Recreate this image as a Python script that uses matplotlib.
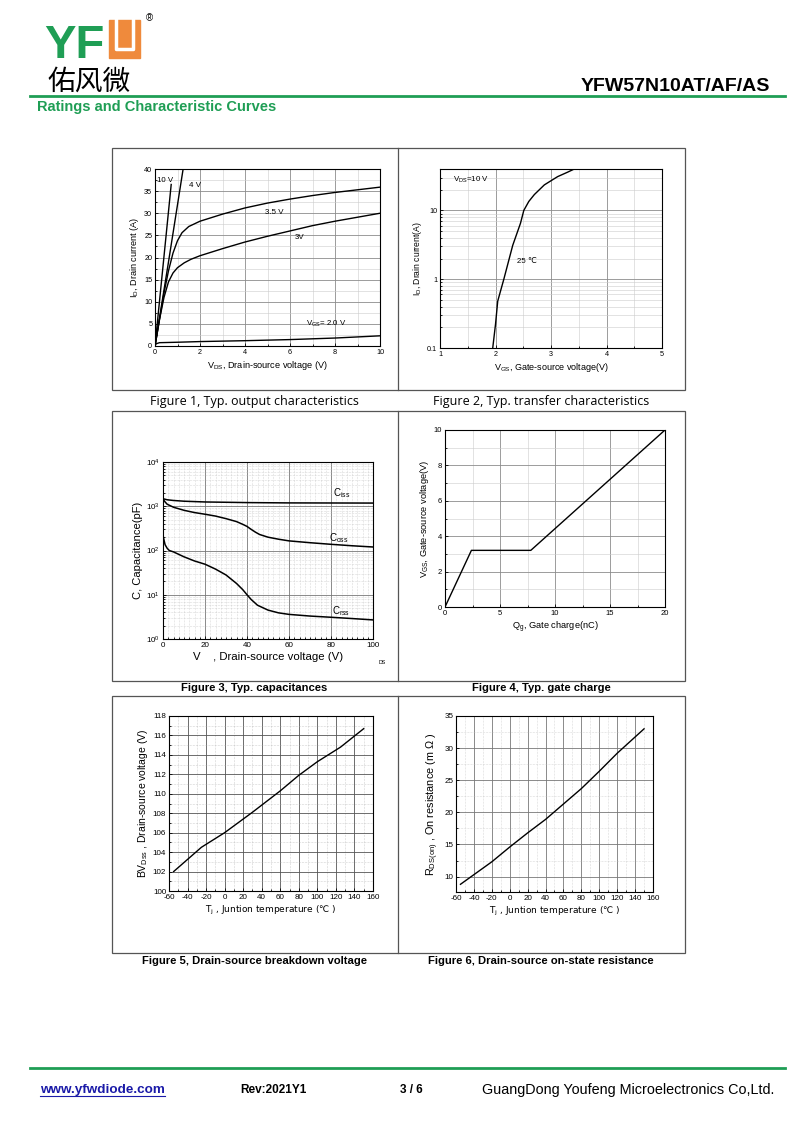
import matplotlib
matplotlib.use('Agg')
import matplotlib.pyplot as plt
import matplotlib.ticker as mt
from matplotlib.patches import Rectangle

plt.rcParams['font.family'] = ['Liberation Sans', 'DejaVu Sans', 'Noto Sans CJK SC']
plt.rcParams['mathtext.default'] = 'regular'
plt.rcParams['axes.unicode_minus'] = False

W, H = 800, 1130

# Figure 1, output characteristics (VDS in V, ID in A)
vds_10v = [0, 0.72]
id_10v = [0, 36.5]
vds_4v = [0, 0.6, 1.25]
id_4v = [0, 19, 40]
vds_35v = [0, 0.2, 0.4, 0.6, 0.8, 1.0, 1.2, 1.5, 2, 2.5, 3, 4, 5, 6, 7, 8, 9, 10]
id_35v = [0, 6, 12, 17, 21, 23.8, 25.6, 27, 28.2, 29, 29.8, 31.2, 32.3, 33.2, 34, 34.7, 35.3, 35.9]
vds_3v = [0, 0.2, 0.4, 0.6, 0.8, 1.0, 1.3, 1.6, 2, 2.5, 3, 4, 5, 6, 7, 8, 9, 10]
id_3v = [0, 6, 11, 14.5, 16.5, 17.7, 18.8, 19.6, 20.4, 21.2, 22, 23.5, 24.8, 26, 27.2, 28.2, 29.1, 30]
vds_2v = [0, 0.05, 0.2, 1, 2, 4, 6, 8, 10]
id_2v = [0, 0.5, 0.75, 0.85, 1.0, 1.2, 1.45, 1.8, 2.3]

# Figure 2, transfer characteristics
vgs_tr = [1.95, 2.0, 2.04, 2.15, 2.31, 2.45, 2.51, 2.6, 2.7, 2.88, 3.0, 3.12, 3.3, 3.42]
id_tr = [0.1, 0.22, 0.48, 1.0, 3.1, 6.5, 10, 13.5, 17, 23.5, 27, 31, 36, 40]

# Figure 3, capacitances (pF)
v_ciss = [0, 2, 5, 10, 20, 30, 40, 50, 60, 80, 100]
ciss = [1480, 1400, 1350, 1300, 1250, 1230, 1210, 1200, 1190, 1185, 1180]
v_coss = [0, 1, 2, 5, 10, 15, 20, 25, 30, 35, 38, 40, 42, 44, 46, 50, 55, 60, 70, 80, 90, 100]
coss = [1450, 1250, 1110, 950, 810, 720, 660, 600, 525, 450, 390, 350, 300, 260, 230, 200, 180, 165, 150, 138, 128, 120]
v_crss = [0, 0.5, 1, 2, 3, 5, 10, 15, 20, 25, 30, 35, 38, 40, 42, 45, 50, 55, 60, 70, 80, 90, 100]
crss = [222, 170, 135, 112, 100, 93, 72, 58, 49, 38, 28, 18, 13, 10, 7.8, 5.8, 4.5, 3.9, 3.6, 3.3, 3.1, 2.9, 2.7]

# Figure 4, gate charge
qg = [0, 2.4, 7.8, 20]
vgs_qg = [0, 3.2, 3.2, 10]

# Figure 5, breakdown voltage vs Tj
tj_bv = [-55, -25, 0, 30, 60, 80, 100, 125, 150]
bv = [102.0, 104.5, 106.0, 108.1, 110.3, 111.9, 113.3, 114.8, 116.7]

# Figure 6, on resistance vs Tj
tj_r = [-55, -40, -20, 0, 20, 40, 60, 80, 100, 120, 150]
rds = [8.8, 10.3, 12.3, 14.6, 16.8, 18.9, 21.3, 23.7, 26.4, 29.2, 33.0]

GREEN = '#1f9e55'
ORANGE = '#ef8a3c'


def px_axes(fig, l, t, r, b):
    return fig.add_axes([l / W, 1 - b / H, (r - l) / W, (b - t) / H])


def style(ax, fs, major='#8c8c8c', minor='#cccccc', mls='-'):
    ax.tick_params(which='both', direction='in', labelsize=fs, width=0.6, length=2.5, pad=2)
    ax.tick_params(which='minor', length=1.5)
    for s in ax.spines.values():
        s.set_linewidth(0.8)
    ax.grid(which='major', color=major, lw=0.6)
    ax.grid(which='minor', color=minor, lw=0.4, ls=mls)
    ax.set_axisbelow(True)


fig = plt.figure(figsize=(8, 11.3), dpi=100)

# page layer in pixel coordinates
pg = fig.add_axes([0, 0, 1, 1])
pg.set_xlim(0, W)
pg.set_ylim(H, 0)
pg.axis('off')

# logo
pg.text(44, 58, 'YF', color=GREEN, fontsize=34, fontweight='bold', va='baseline', ha='left')
pg.add_patch(Rectangle((109, 20), 31, 38, color=ORANGE))
pg.plot([116, 116, 133, 133], [20, 49, 49, 20], color='white', lw=2.5)
pg.text(146, 18, '®', fontsize=7, ha='left', va='center')
pg.text(48, 90, '佑风微', fontsize=20, family=['Noto Sans CJK SC'], va='baseline', ha='left')
pg.text(770, 91, 'YFW57N10AT/AF/AS', fontsize=14, fontweight='bold', ha='right', va='baseline')
pg.plot([30, 785], [96, 96], color=GREEN, lw=2)
pg.text(37, 107, 'Ratings and Characteristic Curves', color=GREEN, fontsize=10.5, fontweight='bold',
        ha='left', va='center')

# panel frames
for top, bot in [(148, 390), (411, 681), (696, 953)]:
    pg.add_patch(Rectangle((112, top), 573, bot - top, fill=False, ec='#555555', lw=0.9))
    pg.plot([398, 398], [top, bot], color='#555555', lw=0.9)

# captions
pg.text(254, 401, 'Figure 1, Typ. output characteristics', family=['Open Sans'], fontsize=9, ha='center', va='center')
pg.text(541, 401, 'Figure 2, Typ. transfer characteristics', family=['Open Sans'], fontsize=9, ha='center', va='center')
pg.text(254, 688, 'Figure 3, Typ. capacitances', fontsize=8.1, fontweight='bold', ha='center', va='center')
pg.text(541, 688, 'Figure 4, Typ. gate charge', fontsize=8.1, fontweight='bold', ha='center', va='center')
pg.text(254, 961, 'Figure 5, Drain-source breakdown voltage', fontsize=8.1, fontweight='bold', ha='center', va='center')
pg.text(541, 961, 'Figure 6, Drain-source on-state resistance', fontsize=8.1, fontweight='bold', ha='center', va='center')

# footer
pg.plot([30, 785], [1068, 1068], color=GREEN, lw=2)
pg.text(40, 1090, 'www.yfwdiode.com', color='#1a1aa8', fontsize=9.7, fontweight='bold', ha='left', va='center')
pg.plot([40, 165], [1096, 1096], color='#1a1aa8', lw=0.8)
pg.text(240, 1090, 'Rev:2021Y1', fontsize=8.5, fontweight='bold', ha='left', va='center')
pg.text(400, 1090, '3 / 6', fontsize=8.5, fontweight='bold', ha='left', va='center')
pg.text(482, 1090, 'GuangDong Youfeng Microelectronics Co,Ltd.', fontsize=10.4, ha='left', va='center')

# Figure 1
ax1 = px_axes(fig, 155, 169, 380, 346)
for x, y in [(vds_10v, id_10v), (vds_4v, id_4v), (vds_35v, id_35v), (vds_3v, id_3v), (vds_2v, id_2v)]:
    ax1.plot(x, y, color='black', lw=1.0)
ax1.set_xlim(0, 10)
ax1.set_ylim(0, 40)
ax1.xaxis.set_major_locator(mt.MultipleLocator(2))
ax1.xaxis.set_minor_locator(mt.MultipleLocator(1))
ax1.yaxis.set_major_locator(mt.MultipleLocator(5))
ax1.yaxis.set_minor_locator(mt.MultipleLocator(2.5))
style(ax1, 5.2)
ax1.text(0.1, 37.5, '10 V', fontsize=5.7, va='center')
ax1.text(1.5, 36.2, '4 V', fontsize=5.7, va='center')
ax1.text(4.9, 30.2, '3.5 V', fontsize=5.7, va='center')
ax1.text(6.2, 24.5, '3V', fontsize=5.7, va='center')
ax1.text(6.7, 5.0, 'V$_{GS}$= 2.0 V', fontsize=5.7, va='center')
ax1.set_xlabel('V$_{DS}$, Drain-source voltage (V)', fontsize=6.6, labelpad=2)
ax1.set_ylabel('I$_D$, Drain current (A)', fontsize=6.6, labelpad=2)

# Figure 2
ax2 = px_axes(fig, 440, 169, 662, 348)
ax2.plot(vgs_tr, id_tr, color='black', lw=1.0)
ax2.set_yscale('log')
ax2.set_xlim(1, 5)
ax2.set_ylim(0.1, 40)
ax2.xaxis.set_major_locator(mt.MultipleLocator(1))
ax2.xaxis.set_minor_locator(mt.MultipleLocator(0.5))
ax2.yaxis.set_major_locator(mt.FixedLocator([0.1, 1, 10]))
ax2.yaxis.set_major_formatter(mt.FixedFormatter(['0.1', '1', '10']))
ax2.yaxis.set_minor_formatter(mt.NullFormatter())
style(ax2, 5.2)
ax2.text(1.23, 28, 'V$_{DS}$=10 V', fontsize=5.7, va='center')
ax2.text(2.39, 1.78, '25 ℃', fontsize=5.7, va='center')
ax2.set_xlabel('V$_{GS}$, Gate-source voltage(V)', fontsize=6.5, labelpad=2)
ax2.set_ylabel('I$_D$, Drain current(A)', fontsize=6.2, labelpad=2)

# Figure 3
ax3 = px_axes(fig, 163, 462, 373, 639)
for x, y in [(v_ciss, ciss), (v_coss, coss), (v_crss, crss)]:
    ax3.plot(x, y, color='black', lw=1.1)
ax3.set_yscale('log')
ax3.set_xlim(0, 100)
ax3.set_ylim(1, 1e4)
ax3.xaxis.set_major_locator(mt.MultipleLocator(20))
ax3.xaxis.set_minor_locator(mt.MultipleLocator(2.5))
ax3.yaxis.set_minor_formatter(mt.NullFormatter())
style(ax3, 5.8, major='#777777', minor='#bbbbbb', mls=':')
ax3.text(81, 2000, 'C$_{iss}$', fontsize=7, va='center')
ax3.text(79, 190, 'C$_{oss}$', fontsize=7, va='center')
ax3.text(80.5, 4.3, 'C$_{rss}$', fontsize=7, va='center')
ax3.set_xlabel('V    , Drain-source voltage (V)', fontsize=8.2, labelpad=2)
ax3.set_ylabel('C, Capacitance(pF)', fontsize=8, labelpad=2)
pg.text(382, 663, 'DS', fontsize=3.8, ha='center', va='center')

# Figure 4
ax4 = px_axes(fig, 445, 430, 665, 607)
ax4.plot(qg, vgs_qg, color='black', lw=1.0)
ax4.set_xlim(0, 20)
ax4.set_ylim(0, 10)
ax4.xaxis.set_major_locator(mt.MultipleLocator(5))
ax4.xaxis.set_minor_locator(mt.MultipleLocator(2.5))
ax4.yaxis.set_major_locator(mt.MultipleLocator(2))
ax4.yaxis.set_minor_locator(mt.MultipleLocator(1))
style(ax4, 5.5)
ax4.set_xlabel('Q$_g$, Gate charge(nC)', fontsize=6.7, labelpad=2)
ax4.set_ylabel('V$_{GS}$, Gate-source voltage(V)', fontsize=6.7, labelpad=2)

# Figure 5
ax5 = px_axes(fig, 169, 716, 373, 891)
ax5.plot(tj_bv, bv, color='black', lw=1.0)
ax5.set_xlim(-60, 160)
ax5.set_ylim(100, 118)
ax5.xaxis.set_major_locator(mt.MultipleLocator(20))
ax5.xaxis.set_minor_locator(mt.MultipleLocator(10))
ax5.yaxis.set_major_locator(mt.MultipleLocator(2))
ax5.yaxis.set_minor_locator(mt.MultipleLocator(1))
style(ax5, 5.8, major='#555555', minor='#aaaaaa', mls=':')
ax5.set_xlabel('T$_j$ , Juntion temperature (℃ )', fontsize=6.5, labelpad=2, family='DejaVu Sans')
ax5.set_ylabel('BV$_{Dss}$ , Drain-source voltage (V)', fontsize=7.5, labelpad=2)

# Figure 6
ax6 = px_axes(fig, 456, 716, 653, 892)
ax6.plot(tj_r, rds, color='black', lw=1.0)
ax6.set_xlim(-60, 160)
ax6.set_ylim(7.6, 35)
ax6.xaxis.set_major_locator(mt.MultipleLocator(20))
ax6.xaxis.set_minor_locator(mt.MultipleLocator(10))
ax6.yaxis.set_major_locator(mt.MultipleLocator(5))
ax6.yaxis.set_minor_locator(mt.MultipleLocator(2.5))
style(ax6, 5.8, major='#777777', minor='#bbbbbb', mls=':')
ax6.set_xlabel('T$_j$ , Juntion temperature (℃ )', fontsize=6.5, labelpad=2, family='DejaVu Sans')
ax6.set_ylabel('R$_{DS(on)}$ , On resistance (m Ω )', fontsize=7.8, labelpad=2)

fig.savefig('out.png', dpi=100)
